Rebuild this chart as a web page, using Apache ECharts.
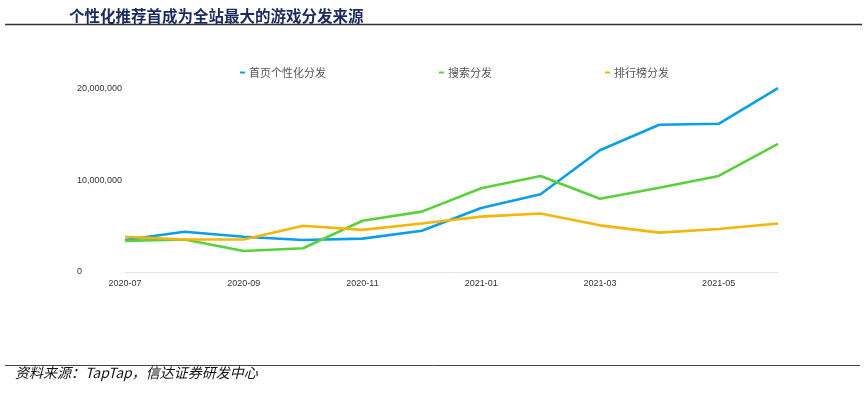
<!DOCTYPE html>
<html>
<head>
<meta charset="utf-8">
<script src="https://cdn.jsdelivr.net/npm/echarts@6/dist/echarts.min.js"></script>
<style>
html,body{margin:0;padding:0;background:#fff;}
#chart{width:866px;height:393px;}
</style>
</head>
<body>
<div id="chart"></div>
<script>
const months = ['2020-07','2020-08','2020-09','2020-10','2020-11','2020-12','2021-01','2021-02','2021-03','2021-04','2021-05','2021-06'];
const seriesNames = ['首页个性化分发','搜索分发','排行榜分发'];
const homepage = [3500000,4400000,3850000,3500000,3650000,4500000,7000000,8500000,13300000,16100000,16200000,20100000];
const search   = [3400000,3550000,2300000,2600000,5600000,6600000,9150000,10500000,8000000,9200000,10500000,14000000];
const ranking  = [3850000,3550000,3550000,5050000,4600000,5300000,6050000,6400000,5100000,4300000,4700000,5300000];
const yTicks = [0,10000000,20000000];
const titleText = '个性化推荐首成为全站最大的游戏分发来源';
const sourceText = '资料来源：TapTap，信达证券研发中心';
const colors = ['#0a9fe6','#5ad13c','#f4b60a'];

const chart = echarts.init(document.getElementById('chart'));
const fmt = v => v.toLocaleString('en-US');
const data = [homepage, search, ranking];
chart.setOption({
  animation:false,
  backgroundColor:'#fff',
  title:{
    text:titleText,
    left:64, top:3,
    textStyle:{fontFamily:'Noto Sans CJK SC', fontWeight:'bold', fontSize:15.5, color:'#1b2a5c'}
  },
  graphic:[
    {type:'line', shape:{x1:5,y1:24.5,x2:862,y2:24.5}, style:{stroke:'#333',lineWidth:1.5}},
    {type:'line', shape:{x1:5,y1:365.5,x2:860,y2:365.5}, style:{stroke:'#444',lineWidth:1}},
    {type:'text', left:15, top:366, style:{text:sourceText, fontFamily:'Noto Sans CJK SC', fontStyle:'italic', fontSize:14, fill:'#111'}}
  ],
  legend:{
    left:235, top:62, itemGap:113, itemWidth:5, itemHeight:2,
    icon:'rect',
    textStyle:{fontFamily:'Noto Sans CJK SC', fontSize:11, color:'#555', padding:[0,0,0,-1]},
    data:seriesNames
  },
  grid:{left:125, right:88, top:89, bottom:121},
  xAxis:{
    type:'category', data:months, boundaryGap:false,
    axisLine:{lineStyle:{color:'#e4e4e4', width:1}},
    axisTick:{show:false},
    axisLabel:{interval:1, margin:7, fontFamily:'Liberation Sans', fontSize:9, color:'#333'}
  },
  yAxis:{
    type:'value', min:0, max:20000000, interval:10000000,
    axisLine:{show:false}, axisTick:{show:false},
    splitLine:{show:false},
    axisLabel:{margin:48, align:'left', fontFamily:'Liberation Sans', fontSize:9, color:'#333', formatter:v=>fmt(v)}
  },
  series: seriesNames.map((n,i)=>({
    name:n, type:'line', data:data[i], symbol:'none', clip:false,
    lineStyle:{width:2.6, color:colors[i]}, itemStyle:{color:colors[i]}
  }))
});
</script>
</body>
</html>
